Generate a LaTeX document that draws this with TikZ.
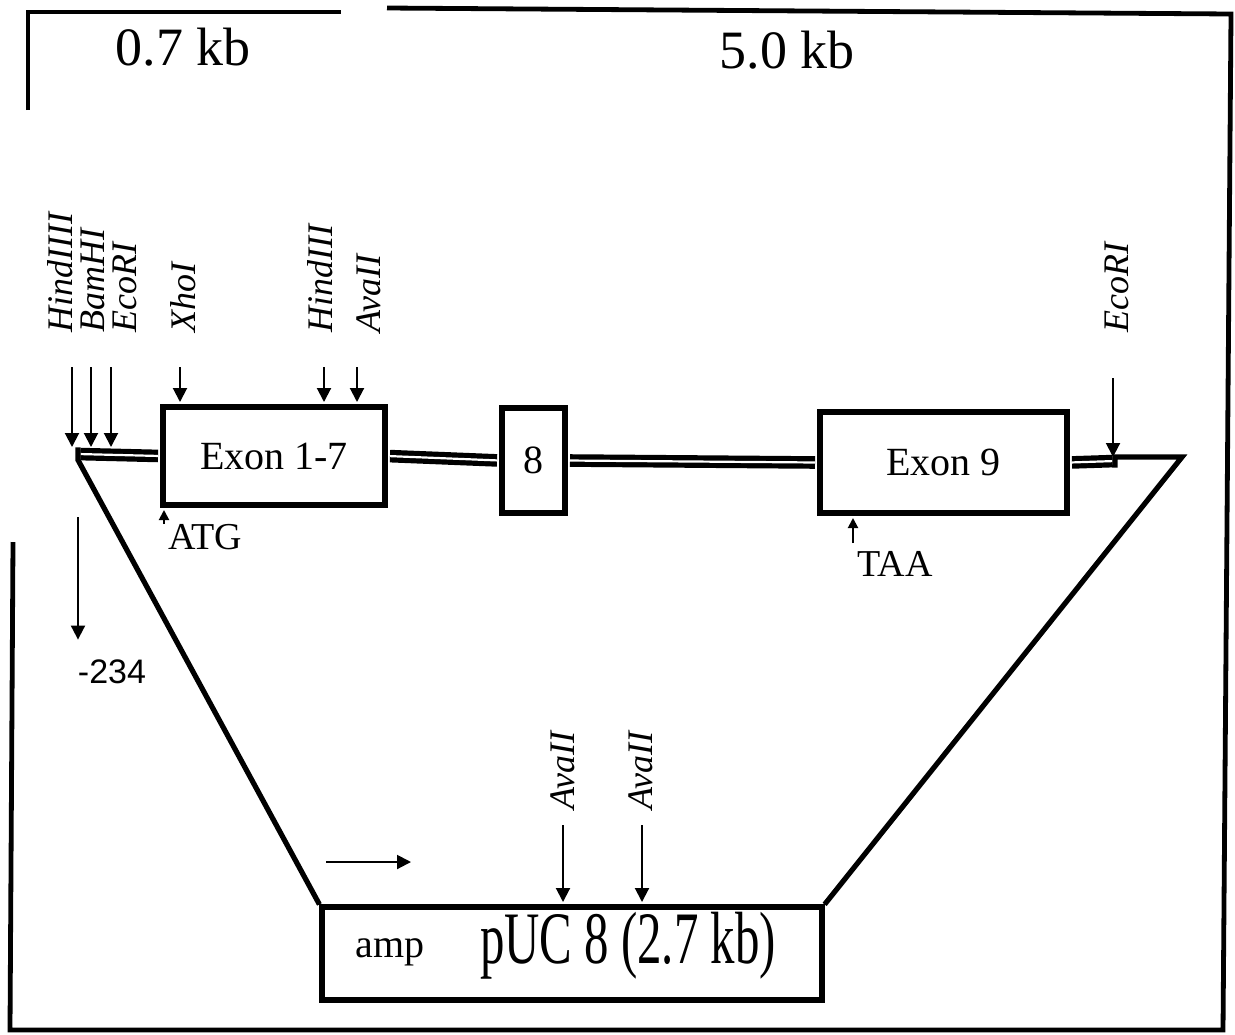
\documentclass[tikz,border=0pt]{standalone}
\usepackage{fontspec}
\setmainfont{Liberation Serif}
\newfontfamily\arialfont{Liberation Sans}
\usepackage{tikz}
\usetikzlibrary{arrows.meta}

\begin{document}
\begin{tikzpicture}[
    x=0.5pt, y=-0.5pt,
    frame/.style={line width=2.4pt},
    exon/.style={draw, rectangle, line width=2.6pt, inner sep=0pt,
                 font=\fontsize{20}{20}\selectfont},
    intron/.style={double, double distance=1.1pt, line width=2.6pt,
                   shorten <=1.2pt, shorten >=1.2pt},
    vector/.style={line width=2.6pt, line join=miter},
    site/.style={rotate=90, anchor=west, inner sep=0pt,
                 font=\fontsize{18}{18}\selectfont\itshape},
    cut/.style={-{Triangle[length=7pt,width=7pt]}, line width=1pt},
    tick/.style={-{Triangle[length=5pt,width=5pt]}, line width=1pt},
    lbl/.style={inner sep=0pt, font=\fontsize{19}{19}\selectfont}
  ]
  \useasboundingbox (0,0) rectangle (1235,1034);

  % frame and sizes
  \draw[frame] (28,110) -- (28,12) -- (341,12);
  \draw[frame] (387,8) -- (1231,14) -- (1223,1030) -- (10,1030) -- (13,542);
  \node[lbl, font=\fontsize{27}{27}\selectfont] (small) at (183,47) {0.7 kb};
  \node[lbl, font=\fontsize{27}{27}\selectfont] (large) at (787,50) {5.0 kb};

  % gene
  \node[exon, minimum width=111pt, minimum height=49pt] (ex17) at (274,456) {Exon 1-7};
  \node[exon, minimum width=31.5pt, minimum height=52.5pt] (ex8) at (533.5,460.5) {8};
  \node[exon, minimum width=123.5pt, minimum height=50.5pt] (ex9) at (943.5,462.5) {Exon 9};
  \coordinate (gl) at (78,454);
  \coordinate (gr) at (1115,461);
  \coordinate (tr) at (1182,457);

  \draw[intron] (gl) -- (ex17.west);
  \draw[intron] (ex17.east) -- (ex8.west);
  \draw[intron] (ex8.east) -- (ex9.west);
  \draw[intron] (ex9.east) -- (gr);

  % plasmid
  \node[exon, minimum width=250pt, minimum height=46.5pt] (puc) at (572,953.5) {};
  \node[lbl, font=\fontsize{20}{20}\selectfont] (amp) at (390,952) {amp};
  \node[lbl, font=\fontsize{37}{37}\selectfont, xscale=0.66] (pucname) at (628,946) {pUC 8 (2.7 kb)};
  \coordinate (ori-a) at (326,862);
  \coordinate (ori-b) at (411,862);
  \draw[cut] (ori-a) -- (ori-b);

  \draw[vector] ([yshift=3.3pt]gl) -- ([yshift=-3pt]gl) -- (puc.north west);
  \draw[vector] ([yshift=-3.3pt]gr) -- ([yshift=2pt]gr) -- (tr) -- (puc.north east);

  % restriction sites
  \foreach \nm/\lx/\ly/\ax/\ay/\txt in {h3a/60/333/72/367/HindIIII, bam/93/333/91/367/BamHI,
      eco/125/333/111/367/EcoRI, xho/183/333/180/367/XhoI, h3b/320/333/324/367/HindIII,
      ava/369/333/357/367/AvaII, ecr/1117/333/1113/378/EcoRI,
      avp/563/810/563/825/AvaII, avq/641/810/642/825/AvaII}{
    \node[site] (\nm) at (\lx,\ly) {\txt};
    \coordinate (\nm-t) at (\ax,\ay);
  }
  \draw[cut, shorten >=3.5pt] (h3a-t) -- (h3a-t |- gl);
  \draw[cut, shorten >=3.5pt] (bam-t) -- (bam-t |- gl);
  \draw[cut, shorten >=3.5pt] (eco-t) -- (eco-t |- gl);
  \draw[cut, shorten >=1.2pt] (xho-t) -- (xho-t |- ex17.north);
  \draw[cut, shorten >=1.2pt] (h3b-t) -- (h3b-t |- ex17.north);
  \draw[cut, shorten >=1.2pt] (ava-t) -- (ava-t |- ex17.north);
  \draw[cut, shorten >=2pt] (ecr-t) -- (ecr-t |- gr);
  \draw[cut, shorten >=1.2pt] (avp-t) -- (avp-t |- puc.north);
  \draw[cut, shorten >=1.2pt] (avq-t) -- (avq-t |- puc.north);

  % start, stop and promoter marks
  \coordinate (atg-t) at (164,524);
  \draw[tick, shorten >=1.2pt] (atg-t) -- (atg-t |- ex17.south);
  \node[lbl, anchor=north west] (atg) at (168,524) {ATG};
  \coordinate (taa-t) at (853,543);
  \draw[tick, shorten >=1.2pt] (taa-t) -- (taa-t |- ex9.south);
  \node[lbl] (taa) at (895,564) {TAA};
  \node[lbl, font=\fontsize{17}{17}\arialfont] (m234) at (112,672) {-234};
  \coordinate (p234) at (78,517);
  \draw[cut, shorten >=10pt] (p234) -- (p234 |- m234.north);
\end{tikzpicture}
\end{document}
